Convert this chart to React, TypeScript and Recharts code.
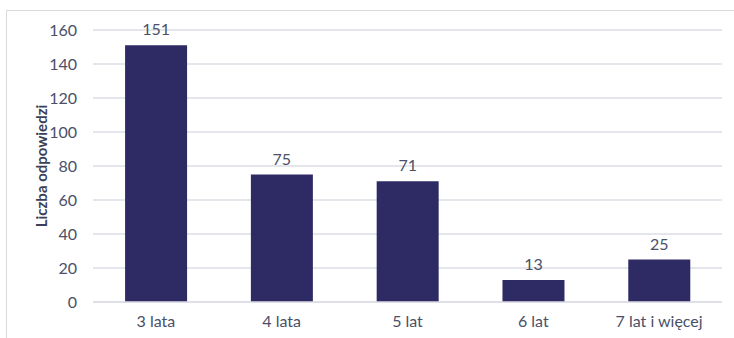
import React from 'react';
import { BarChart, Bar, XAxis, YAxis, CartesianGrid, LabelList, Label } from 'recharts';

const categories = ['3 lata', '4 lata', '5 lat', '6 lat', '7 lat i więcej'];
const responses = [151, 75, 71, 13, 25];
const yTicks = [0, 20, 40, 60, 80, 100, 120, 140, 160];

const data = categories.map((c, i) => ({ name: c, value: responses[i] }));

const FONT = 'Lato, "Open Sans", sans-serif';
const TEXT = '#4a5068';

export default function App() {
  return (
    <div style={{ position: 'absolute', left: 0, top: 0, width: 734, height: 338, overflow: 'hidden', background: '#fff' }}>
      <div style={{ position: 'absolute', left: 6, top: 10, width: 800, height: 400, border: '1px solid #d9d9d9', boxSizing: 'border-box' }} />
      <div style={{ position: 'absolute', left: 0, top: 0 }}>
        <BarChart width={734} height={338} data={data} margin={{ top: 30, right: 12, bottom: 6, left: 0 }} barCategoryGap="25.5%">
          <CartesianGrid vertical={false} stroke="#dcdce6" strokeWidth={1.5} />
          <XAxis
            dataKey="name"
            height={30}
            tickLine={false}
            axisLine={{ stroke: '#dcdce6', strokeWidth: 1.5 }}
            tickSize={0}
            tickMargin={14}
            tick={{ fill: TEXT, fontSize: 16, fontFamily: FONT }}
          />
          <YAxis
            width={93}
            domain={[0, 160]}
            ticks={yTicks}
            interval={0}
            axisLine={false}
            tickLine={false}
            tickSize={0}
            tickMargin={16}
            tick={{ fill: TEXT, fontSize: 16, fontFamily: FONT }}
          >
            <Label
              content={(props: any) => {
                const vb = props.viewBox || {};
                const cx = (vb.x ?? 0) + 41;
                const cy = (vb.y ?? 0) + (vb.height ?? 0) / 2;
                return (
                  <text
                    x={cx}
                    y={cy}
                    transform={`rotate(-90 ${cx} ${cy})`}
                    textAnchor="middle"
                    dominantBaseline="central"
                    fill="#3b3f58"
                    fontSize={15}
                    fontWeight="bold"
                    fontFamily={FONT}
                  >
                    Liczba odpowiedzi
                  </text>
                );
              }}
            />
          </YAxis>
          <Bar dataKey="value" fill="#2e2a63" isAnimationActive={false}>
            <LabelList dataKey="value" position="top" offset={10} fill={TEXT} fontSize={16} fontFamily={FONT} />
          </Bar>
        </BarChart>
      </div>
    </div>
  );
}
